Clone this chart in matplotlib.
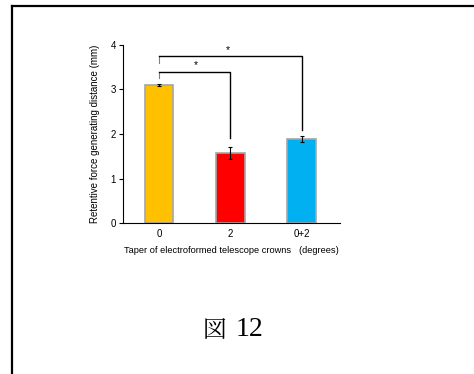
import matplotlib
matplotlib.use('Agg')
import matplotlib.pyplot as plt
from matplotlib.lines import Line2D

plt.rcParams['font.family'] = ['Liberation Sans', 'DejaVu Sans']

# data
categories = ['0', '2', '0+2']
means = [3.10, 1.57, 1.89]
errors = [0.03, 0.13, 0.07]
colors = ['#FFC000', '#FF0000', '#00B0F0']

# significance brackets: (left bar, right bar, bracket height, left drop, right drop, star x, star height)
brackets = [
    (0, 1, 3.40, 3.25, 1.92, 0.52, 3.55),
    (0, 2, 3.75, 3.60, 2.08, 0.97, 3.89),
]

fig = plt.figure(figsize=(4.74, 3.74), dpi=100)
ax = fig.add_axes([0.2595, 0.4037, 0.4578, 0.476])

x = list(range(len(categories)))
ax.bar(x, means, width=0.4, color=colors, edgecolor='#a6a6a6', linewidth=1.2, zorder=2)
ax.errorbar(x, means, yerr=errors, fmt='none', ecolor='black', elinewidth=0.8,
            capsize=1.5, capthick=0.8, zorder=3)

for i, j, h, l_drop, r_drop, sx, sy in brackets:
    ax.plot([x[i], x[i]], [l_drop, h], color='#808080', lw=0.8, zorder=1)
    ax.plot([x[i], x[j], x[j]], [h, h, r_drop], color='black', lw=1.0, zorder=1)
    ax.text(sx, sy, '*', ha='center', va='center', fontsize=7.5, color='black')

ax.set_xlim(-0.507, 2.54)
ax.set_ylim(0, 4)
ax.set_yticks([0, 1, 2, 3, 4])
ax.set_xticks(x)
ax.set_xticklabels(categories)
ax.tick_params(axis='both', labelsize=7, length=3, width=0.8, direction='out', pad=2)
ax.tick_params(axis='x', length=0, pad=4)
for side in ['top', 'right']:
    ax.spines[side].set_visible(False)
for side in ['left', 'bottom']:
    ax.spines[side].set_linewidth(0.8)

ax.set_ylabel('Retentive force generating distance (mm)', fontsize=7, labelpad=8)
ax.set_xlabel('Taper of electroformed telescope crowns   (degrees)', fontsize=6.7, labelpad=5)

# page frame lines (left and top edges)
fig.add_artist(Line2D([12 / 474, 12 / 474], [0, 1 - 6 / 374], transform=fig.transFigure,
                      color='black', lw=1.6))
fig.add_artist(Line2D([12 / 474, 1], [1 - 6 / 374, 1 - 6 / 374], transform=fig.transFigure,
                      color='black', lw=1.6))

# caption: kanji and number drawn as two pieces so the number can be larger
fig.text(226 / 474, 1 - 330 / 374, '図', ha='right', va='center', fontsize=17,
         family=['Noto Serif CJK JP', 'Noto Sans CJK JP'])
fig.text(236 / 474, 1 - 330 / 374, '12', ha='left', va='center', fontsize=20,
         family=['Liberation Serif'])

fig.savefig('out.png', dpi=100)
